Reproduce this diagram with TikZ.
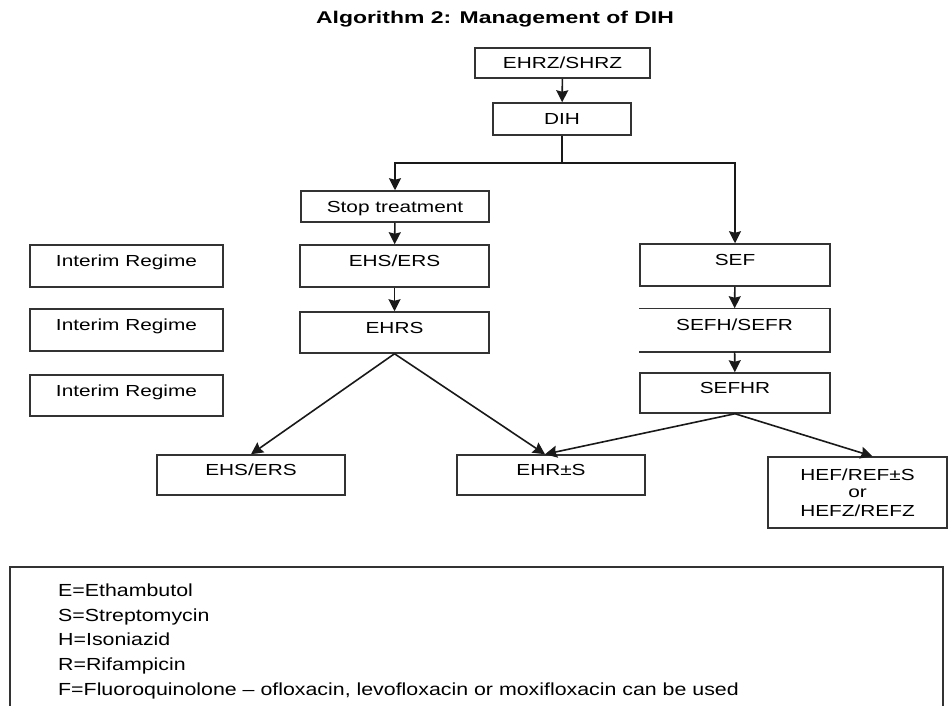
\documentclass[tikz,border=0pt]{standalone}
\usepackage{fontspec}
\setmainfont{Liberation Sans}
\newfontfamily\boxfont[FakeStretch=1.3]{Liberation Sans}
\newfontfamily\titlefont[FakeStretch=1.35]{Liberation Sans}
\newfontfamily\keyfont[FakeStretch=1.22]{Liberation Sans}
\usetikzlibrary{arrows.meta}
\tikzset{
    box/.style={draw=black!80,line width=1.5pt,inner sep=0pt,minimum width=189pt,minimum height=42pt,font=\boxfont\fontsize{16}{19}\selectfont,text height=11.5pt,text depth=0pt},
    boxup/.style={box,text depth=10pt},
    arr/.style={-{Stealth[length=12pt,width=12pt,inset=1.5pt]},line width=1.6pt,black!90},
    link/.style={line width=1.6pt,black!90}
}

\begin{document}
\begin{tikzpicture}[x=1pt,y=-1pt]
            \useasboundingbox (0,0) rectangle (948,706);
            \node[font=\titlefont\bfseries\fontsize{17}{20}\selectfont,inner sep=0pt,text height=12.2pt,text depth=0pt] (title) at (495,17.5) {Algorithm 2: Management of DIH};
            \node[box,minimum width=175pt,minimum height=30pt] (ehrz) at (562.5,63) {EHRZ/SHRZ};
            \node[box,minimum width=138pt,minimum height=32pt] (dih) at (562,119) {DIH};
            \node[box,minimum width=188pt,minimum height=31pt] (stop) at (395,206.5) {Stop treatment};
            \node[boxup,minimum width=193pt] (int1) at (126.5,266) {Interim Regime};
            \node[boxup,minimum width=193pt] (int2) at (126.5,330) {Interim Regime};
            \node[boxup,minimum width=193pt,minimum height=41pt] (int3) at (126.5,395.5) {Interim Regime};
            \node[boxup] (ehs) at (394.5,266) {EHS/ERS};
            \node[boxup,minimum height=41pt] (ehrs) at (394.5,332.5) {EHRS};
            \node[boxup,minimum width=190pt] (sef) at (735,265) {SEF};
            \node[boxup,draw=none] (sefh) at (734.5,330) {SEFH/SEFR};
            \node[boxup,minimum width=190pt,minimum height=40pt] (sefhr) at (735,393) {SEFHR};
            \node[boxup,minimum width=188pt,minimum height=40pt] (ehs2) at (251,475) {EHS/ERS};
            \node[boxup,minimum width=188pt,minimum height=40pt] (ehr) at (551,475) {EHR±S};
            \node[box,minimum width=179pt,minimum height=71pt,align=center,text height=,text depth=] (hef) at (857.5,492.5) {HEF/REF±S\\[-2pt]or\\[0pt]HEFZ/REFZ};
            \draw[black!80,line width=1.5pt] (sefh.north west) -- (sefh.north east) -- (sefh.south east) -- (sefh.south west);
            \coordinate (split) at (562,163);
            \draw[arr] (ehrz) -- (dih);
            \draw[link] (dih) -- (split);
            \draw[arr] (split) -| (stop);
            \draw[arr] (split) -| (sef);
            \draw[arr] (stop) -- (ehs);
            \draw[arr] (ehs) -- (ehrs);
            \draw[arr] (sef) -- (sefh);
            \draw[arr] (sefh) -- (sefhr);
            \draw[arr] (ehrs.south) -- (ehs2.north);
            \draw[arr] (ehrs.south) -- ([xshift=-6pt]ehr.north);
            \draw[arr] (sefhr.south) -- ([xshift=-6pt]ehr.north);
            \draw[arr] (sefhr.south) -- ([xshift=15pt]hef.north);
            \draw[black!80,line width=1.5pt] (10,706) -- (10,567) -- (943,567) -- (943,706);
            \node[font=\keyfont\fontsize{17.5}{24.75}\selectfont,align=left,anchor=north west,inner sep=0pt] (key) at (58,583.5) {E=Ethambutol\\S=Streptomycin\\H=Isoniazid\\R=Rifampicin\\F=Fluoroquinolone – ofloxacin, levofloxacin or moxifloxacin can be used};
        \end{tikzpicture}
\end{document}
